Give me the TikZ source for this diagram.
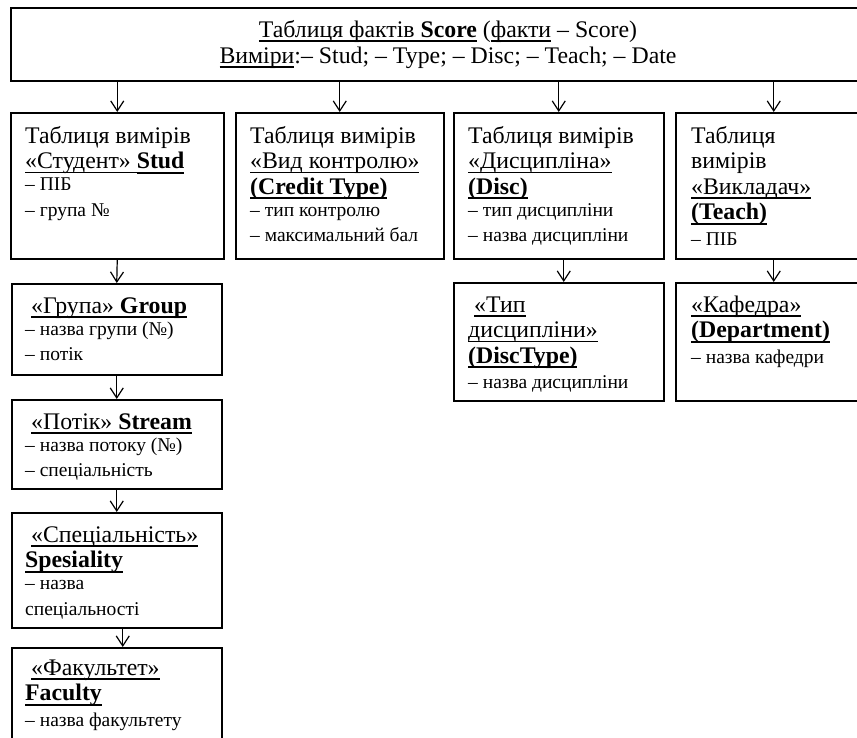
\documentclass[tikz,border=0pt]{standalone}
\usepackage{fontspec}
\setmainfont{Liberation Serif}
\usepackage{tikz}
\usetikzlibrary{arrows.meta,positioning,calc}
\newcommand{\bigf}{\fontsize{23.8}{25.5}\selectfont}
\newcommand{\smf}{\fontsize{19.5}{22}\selectfont}
\newcommand{\undl}[1]{\leavevmode\setbox0\hbox{#1}\rlap{\rule[-4.6pt]{\wd0}{1.2pt}}\box0\relax}
\newcommand{\undb}[1]{\leavevmode\setbox0\hbox{\bfseries #1}\rlap{\rule[-5.4pt]{\wd0}{2.3pt}}\box0\relax}
\tikzset{
  tbl/.style={draw, line width=1.5pt, anchor=north west, inner sep=0pt},
  tbltxt/.style={anchor=base west, align=flush left, text width=200pt, inner sep=0pt, font=\bigf},
  facttxt/.style={anchor=base, align=flush center, text width=700pt, inner sep=0pt, font=\fontsize{23.8}{26}\selectfont},
  arrow/.style={-{Straight Barb[length=10pt,width=13pt]}, line width=1.2pt}
}

\begin{document}
\begin{tikzpicture}[x=1pt,y=-1pt]
  \useasboundingbox (0,0) rectangle (857,737);
  \fill[white] (0,0) rectangle (857,737);
  \clip (0,0) rectangle (857,737);

  % fact table
  \node[tbl, minimum width=876, minimum height=73] (score) at (10,7) {};
  \node[facttxt] (scoretxt) at (448,37) {\undl{Таблиця фактів }\undb{Score} (\undl{факти} – Score)\\
    \undl{Виміри}:– Stud; – Type; – Disc; – Teach; – Date};

  % dimension tables
  \node[tbl, minimum width=213, minimum height=146] (stud) at (10,112) {};
  \node[tbl, minimum width=208, minimum height=146] (credit) at (235,112) {};
  \node[tbl, minimum width=210, minimum height=146] (disc) at (453,112) {};
  \node[tbl, minimum width=196, minimum height=146] (teach) at (675,112) {};

  \node[tbltxt] (studtxt) at ([shift={(15,31)}]stud.north west) {Таблиця вимірів\\
    \undl{«Студент» }\undb{Stud}\par
    \smf – ПІБ\\ – група №};
  \node[tbltxt] (credittxt) at ([shift={(15,31)}]credit.north west) {Таблиця вимірів\\
    \undl{«Вид контролю»}\\ \undb{(Credit Type)}\par
    \smf – тип контролю\\ – максимальний бал};
  \node[tbltxt] (disctxt) at ([shift={(15,31)}]disc.north west) {Таблиця вимірів\\
    \undl{«Дисципліна»}\\ \undb{(Disc)}\par
    \smf – тип дисципліни\\ – назва дисципліни};
  \node[tbltxt] (teachtxt) at ([shift={(16,31)}]teach.north west) {Таблиця\\ вимірів\\
    \undl{«Викладач»}\\ \undb{(Teach)}\par
    \smf – ПІБ};

  % student hierarchy
  \node[tbl, minimum width=210, minimum height=91] (group) at (11,283) {};
  \node[tbl, minimum width=210, minimum height=89] (stream) at (11,399) {};
  \node[tbl, minimum width=210, minimum height=115] (spec) at (11,512) {};
  \node[tbl, minimum width=210, minimum height=120] (fac) at (11,647) {};

  \node[tbltxt] (grouptxt) at ([shift={(14,30)}]group.north west) {\hspace*{6pt}\undl{«Група» }\undb{Group}\par
    \smf – назва групи (№)\\ – потік};
  \node[tbltxt] (streamtxt) at ([shift={(14,30)}]stream.north west) {\hspace*{6pt}\undl{«Потік» }\undb{Stream}\par
    \smf – назва потоку (№)\\ – спеціальність};
  \node[tbltxt] (spectxt) at ([shift={(14,30)}]spec.north west) {\hspace*{6pt}\undl{«Спеціальність»}\\
    \undb{Spesiality}\par
    \smf – назва\\ спеціальності};
  \node[tbltxt] (factxt) at ([shift={(14,28)}]fac.north west) {\hspace*{6pt}\undl{«Факультет»}\\
    \undb{Faculty}\par
    \smf – назва факультету};

  % discipline and teacher details
  \node[tbl, minimum width=210, minimum height=118] (disctype) at (453,282) {};
  \node[tbl, minimum width=196, minimum height=118] (dept) at (675,282) {};

  \node[tbltxt] (disctypetxt) at ([shift={(15,30)}]disctype.north west) {\hspace*{6pt}\undl{«Тип}\\
    \undl{дисципліни»}\\ \undb{(DiscType)}\par
    \smf – назва дисципліни};
  \node[tbltxt] (depttxt) at ([shift={(16,30)}]dept.north west) {\undl{«Кафедра»}\\
    \undb{(Department)}\par
    \smf – назва кафедри};

  % links
  \draw[arrow] (score.south -| stud.north) -- (stud.north);
  \draw[arrow] (score.south -| credit.north) -- (credit.north);
  \draw[arrow] (score.south -| disc.north) -- (disc.north);
  \draw[arrow] (score.south -| teach.north) -- (teach.north);
  \draw[arrow] (stud.south) -- (group.north);
  \draw[arrow] (group.south) -- (stream.north);
  \draw[arrow] (stream.south) -- (spec.north);
  \draw[arrow] ([xshift=6]spec.south) -- ([xshift=6]fac.north);
  \draw[arrow] ([xshift=5]disc.south) -- ([xshift=5]disctype.north);
  \draw[arrow] (teach.south) -- (dept.north);
\end{tikzpicture}
\end{document}
